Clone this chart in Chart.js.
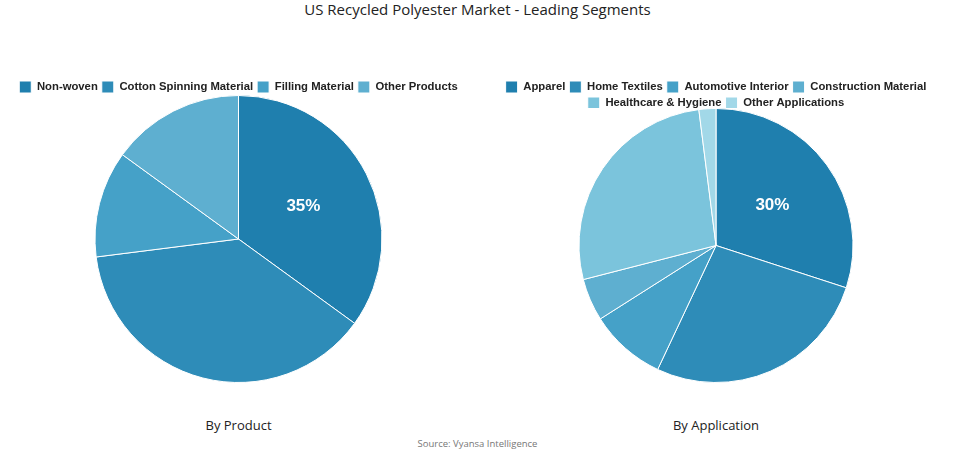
<!DOCTYPE html>
<html>
<head>
<meta charset="utf-8">
<script src="https://cdn.jsdelivr.net/npm/chart.js@4/dist/chart.umd.min.js"></script>
<style>
  html, body { margin: 0; padding: 0; background: #ffffff; }
  body { width: 955px; height: 454px; position: relative; overflow: hidden; font-family: "Open Sans", "DejaVu Sans", sans-serif; }
  #title { position: absolute; top: -1px; left: 0; width: 955px; text-align: center; font-size: 15px; color: #222; line-height: 20px; }
  .box { position: absolute; top: 77px; height: 306px; }
  .sub { position: absolute; top: 416px; font-size: 13px; color: #222; text-align: center; line-height: 18px; }
  #source { position: absolute; top: 437px; left: 0; width: 955px; text-align: center; font-size: 9.5px; color: #777; line-height: 14px; }
</style>
</head>
<body>
<div id="title">US Recycled Polyester Market - Leading Segments</div>
<div class="box" style="left:0px;width:477px;"><canvas id="c1"></canvas></div>
<div class="box" style="left:477px;width:478px;"><canvas id="c2"></canvas></div>
<div class="sub" style="left:0px;width:477px;">By Product</div>
<div class="sub" style="left:477px;width:478px;">By Application</div>
<div id="source">Source: Vyansa Intelligence</div>
<script>
const productLabels = ["Non-woven", "Cotton Spinning Material", "Filling Material", "Other Products"];
const productValues = [35, 38, 12, 15];
const productColors = ["#1f7fae", "#2e8cb8", "#45a1c8", "#5eafd0"];

const applicationLabels = ["Apparel", "Home Textiles", "Automotive Interior", "Construction Material", "Healthcare & Hygiene", "Other Applications"];
const applicationValues = [30, 27, 9, 5, 27, 2];
const applicationColors = ["#1f7fae", "#2e8cb8", "#45a1c8", "#5eafd0", "#7bc4dc", "#a2d8e8"];

const firstLabelPlugin = {
  id: 'firstLabel',
  afterDatasetsDraw(chart) {
    const meta = chart.getDatasetMeta(0);
    const arc = meta.data[0];
    if (!arc) return;
    const ds = chart.data.datasets[0];
    const total = ds.data.reduce((a, b) => a + b, 0);
    const pct = Math.round(ds.data[0] / total * 100) + '%';
    const pos = arc.tooltipPosition();
    const ctx = chart.ctx;
    ctx.save();
    ctx.font = 'bold 17px "Liberation Sans", Arial, sans-serif';
    ctx.fillStyle = '#ffffff';
    ctx.textAlign = 'center';
    ctx.textBaseline = 'middle';
    ctx.fillText(pct, pos.x + 1, pos.y);
    ctx.restore();
  }
};

function legendShrink(amount) {
  return {
    id: 'legendShrink',
    beforeInit(chart) {
      const lg = chart.legend;
      if (!lg) return;
      const origFit = lg.fit.bind(lg);
      lg.fit = function () {
        origFit();
        this.height -= amount;
      };
    }
  };
}

function makePie(id, labels, values, colors, shrink) {
  return new Chart(document.getElementById(id), {
    type: 'pie',
    data: {
      labels: labels,
      datasets: [{ data: values, backgroundColor: colors, borderColor: '#ffffff', borderWidth: 1, hoverOffset: 0, hoverBorderWidth: 1 }]
    },
    options: {
      responsive: true,
      maintainAspectRatio: false,
      animation: false,
      layout: { padding: 0 },
      plugins: {
        legend: {
          position: 'top',
          labels: {
            boxWidth: 12, boxHeight: 12, padding: 4,
            color: '#222',
            font: { family: '"Liberation Sans", Arial, sans-serif', size: 11.3, weight: 'bold' }
          }
        },
        tooltip: { enabled: false },
        title: { display: false }
      }
    },
    plugins: [legendShrink(shrink), firstLabelPlugin]
  });
}
makePie('c1', productLabels, productValues, productColors, 8);
makePie('c2', applicationLabels, applicationValues, applicationColors, 11);
</script>
</body>
</html>
